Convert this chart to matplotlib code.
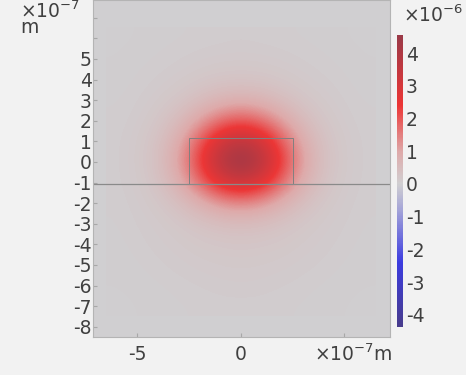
import numpy as np
import matplotlib
matplotlib.use("Agg")
from matplotlib import pyplot as plt
from matplotlib.colors import LinearSegmentedColormap, Normalize
from matplotlib.patches import Rectangle

plt.rcParams["axes.unicode_minus"] = False
plt.rcParams["mathtext.fontset"] = "dejavusans"

# field values (x10^-6) on a 1e-7 m grid
x_grid = [-6, -5, -4, -3, -2, -1, 0, 1, 2, 3, 4, 5, 6]
y_grid = [-7, -6, -5, -4, -3, -2, -1, 0, 1, 2, 3, 4, 5, 6]
field = [
    [.01, .02, .03, .05, .06, .07, .07, .07, .06, .05, .03, .02, .01],
    [.02, .03, .05, .07, .09, .11, .12, .11, .09, .07, .05, .03, .02],
    [.03, .05, .08, .11, .14, .16, .17, .16, .14, .11, .08, .05, .03],
    [.04, .07, .11, .15, .20, .23, .25, .23, .20, .15, .11, .07, .04],
    [.05, .09, .14, .22, .33, .43, .48, .43, .33, .22, .14, .09, .05],
    [.06, .11, .21, .42, .78, 1.19, 1.38, 1.19, .78, .42, .21, .11, .06],
    [.07, .14, .33, .81, 1.73, 2.81, 3.32, 2.81, 1.73, .81, .33, .14, .07],
    [.07, .16, .40, 1.06, 2.32, 3.83, 4.55, 3.83, 2.32, 1.06, .40, .16, .07],
    [.07, .15, .35, .87, 1.88, 3.08, 3.65, 3.08, 1.88, .87, .35, .15, .07],
    [.06, .11, .24, .52, 1.04, 1.65, 1.94, 1.65, 1.04, .52, .24, .11, .06],
    [.05, .08, .15, .26, .45, .66, .75, .66, .45, .26, .15, .08, .05],
    [.03, .06, .09, .14, .20, .26, .28, .26, .20, .14, .09, .06, .03],
    [.02, .04, .06, .08, .11, .13, .14, .13, .11, .08, .06, .04, .02],
    [.01, .02, .04, .05, .06, .07, .08, .07, .06, .05, .04, .02, .01],
]

# geometry (x10^-7 m)
box_x = [-2.5, 2.5]
box_y = [-1.07, 1.17]
interface_y = -1.07

x_lim = [-7.15, 7.2]
y_lim = [-8.5, 7.86]
c_lim = [-4.37, 4.55]
y_ticks = [-8, -7, -6, -5, -4, -3, -2, -1, 0, 1, 2, 3, 4, 5, 6, 7]
x_ticks = [-5, 0, 5]
cbar_ticks = [-4, -3, -2, -1, 0, 1, 2, 3, 4]

wave = LinearSegmentedColormap.from_list("wave", [
    (0.00, "#483c8c"),
    (0.22, "#3c3ce0"),
    (0.40, "#a4a4d8"),
    (0.49, "#d0cfd1"),
    (0.60, "#deaaaa"),
    (0.76, "#ec3636"),
    (1.00, "#9a3a48"),
])
norm = Normalize(c_lim[0], c_lim[1])
txt = "#404040"
fs = 13.5

fig = plt.figure(figsize=(4.66, 3.75), dpi=100, facecolor="#f2f2f2")
ax = fig.add_axes([93 / 466, 38 / 375, 297 / 466, 337 / 375])
ax.set_facecolor(wave(norm(0)))

dx = (x_grid[1] - x_grid[0]) / 2
dy = (y_grid[1] - y_grid[0]) / 2
ax.imshow(np.array(field), cmap=wave, norm=norm, origin="lower",
          interpolation="bicubic", aspect="auto",
          extent=[x_grid[0] - dx, x_grid[-1] + dx, y_grid[0] - dy, y_grid[-1] + dy])

ax.axhline(interface_y, color="#8a8a8a", lw=0.9)
ax.add_patch(Rectangle((box_x[0], box_y[0]), box_x[1] - box_x[0], box_y[1] - box_y[0],
                       fill=False, ec="#808080", lw=0.7))

ax.set_xlim(x_lim)
ax.set_ylim(y_lim)
ax.set_xticks(x_ticks)
ax.set_xticklabels(["" if t == 5 else str(t) for t in x_ticks])
ax.set_yticks(y_ticks)
ax.set_yticklabels(["" if t > 5 else str(t) for t in y_ticks])
ax.tick_params(direction="in", length=3, color="#a8a8a8", labelsize=fs,
               labelcolor=txt, pad=1)
ax.tick_params(axis="x", pad=6)
for s in ax.spines.values():
    s.set_color("#b4b4b4")
    s.set_linewidth(0.8)

fig.text(20 / 466, 1.0, r"$\times10^{-7}$" + "\nm", fontsize=fs, color=txt,
         ha="left", va="top", linespacing=0.75)
fig.text(392 / 466, 21 / 375, r"$\times10^{-7}$m", fontsize=fs, color=txt,
         ha="right", va="center")

cax = fig.add_axes([397 / 466, 48 / 375, 6 / 466, 292 / 375])
cb = fig.colorbar(plt.cm.ScalarMappable(norm=norm, cmap=wave), cax=cax,
                  ticks=cbar_ticks)
cb.outline.set_visible(False)
cax.tick_params(length=0, labelsize=fs, labelcolor=txt, pad=2)
fig.text(403 / 466, 360 / 375, r"$\times10^{-6}$", fontsize=fs, color=txt,
         ha="left", va="center")

fig.savefig("out.png", dpi=100, facecolor=fig.get_facecolor())
